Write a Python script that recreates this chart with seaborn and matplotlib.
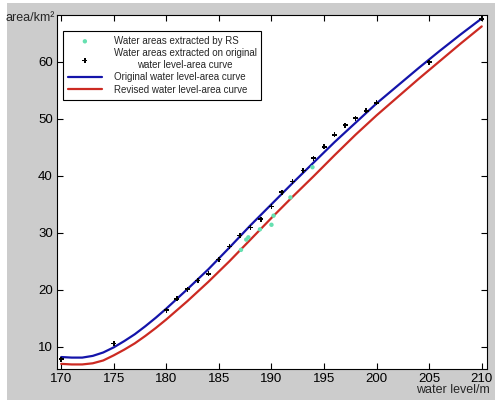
import numpy as np
import pandas as pd
import matplotlib
matplotlib.use("Agg")
import matplotlib.pyplot as plt
import seaborn as sns
from matplotlib.patches import Rectangle

# water level (m) and area (km2)
rs_level = [187.1, 187.6, 187.8, 188.9, 190.0, 190.2, 191.8, 193.9]
rs_area = [27.0, 28.8, 29.2, 30.6, 31.4, 33.0, 36.2, 41.5]

orig_level = [170, 175, 180, 181, 182, 183, 184, 185, 186, 187, 188, 189, 190,
              191, 192, 193, 194, 195, 196, 197, 198, 199, 200, 205, 210]
orig_area = [7.8, 10.6, 16.4, 18.4, 20.1, 21.6, 22.8, 25.3, 27.6, 29.5, 30.9, 32.4, 34.6,
             37.1, 39.0, 40.9, 43.1, 45.1, 47.2, 48.9, 50.1, 51.4, 52.8, 59.9, 67.5]

curve_level = [170, 171, 172, 173, 174, 175, 176, 177, 178, 179, 180, 182, 184, 186, 188, 190,
               192, 194, 196, 198, 200, 202, 204, 206, 208, 210]
curve_orig = [8.2, 8.1, 8.1, 8.4, 9.0, 9.9, 11.0, 12.2, 13.6, 15.1, 16.7, 20.1, 23.6, 27.4, 31.3, 35.0,
              38.7, 42.3, 45.9, 49.3, 52.7, 55.8, 58.9, 61.9, 64.8, 67.6]
curve_rev = [7.0, 6.9, 6.9, 7.1, 7.6, 8.5, 9.5, 10.6, 11.9, 13.3, 14.8, 18.0, 21.4, 25.0, 28.8, 32.6,
             36.3, 39.9, 43.6, 47.2, 50.6, 53.8, 57.0, 60.1, 63.2, 66.2]

sns.set_style("ticks")
plt.rcParams['font.family'] = ['Liberation Sans', 'DejaVu Sans']

fig = plt.figure(figsize=(5.01, 4.0), dpi=100, facecolor="white")
# grey window area with thin white border like the screenshot
bg = Rectangle((7 / 501, 0), 488 / 501, 397 / 400, transform=fig.transFigure,
               facecolor="#cccccc", edgecolor="none", zorder=-10)
fig.add_artist(bg)
ax = fig.add_axes([57 / 501, 31 / 400, 430 / 501, 354 / 400])
ax.set_facecolor("white")

sns.scatterplot(x=rs_level, y=rs_area, ax=ax, color="#66e0b0", s=10, marker="o",
                edgecolor="none", label="Water areas extracted by RS", zorder=4)
sns.scatterplot(x=orig_level, y=orig_area, ax=ax, color="black", s=13, marker="P",
                edgecolor="none", label="Water areas extracted on original\nwater level-area curve", zorder=4)
sns.lineplot(x=curve_level, y=curve_orig, ax=ax, color="#1414aa", lw=1.6,
             label="Original water level-area curve", zorder=3)
sns.lineplot(x=curve_level, y=curve_rev, ax=ax, color="#cc2a22", lw=1.6,
             label="Revised water level-area curve", zorder=3)
for ln in ax.get_lines():
    ln.set_solid_joinstyle("round")

ax.set_xlim(169.6, 210.5)
ax.set_ylim(6.1, 68.2)
ax.set_xticks(np.arange(170, 211, 5))
ax.set_yticks(np.arange(10, 61, 10))
ax.tick_params(direction="in", top=True, right=True, length=4, width=0.8,
               labelsize=9.5, colors="black", pad=3)
for s in ax.spines.values():
    s.set_linewidth(0.8)
    s.set_color("black")
ax.set_xlabel("")
ax.set_ylabel("")

fig.text(5 / 501, 1 - 18 / 400, "area/km²", fontsize=9, va="center", ha="left")
fig.text(490 / 501, 1 - 390 / 400, "water level/m", fontsize=9, va="center", ha="right")

leg = ax.legend(loc="upper left", bbox_to_anchor=(6 / 430, 1 - 16 / 354), borderaxespad=0,
                fontsize=7, frameon=True, fancybox=False, edgecolor="black", framealpha=1,
                handlelength=3.5, borderpad=0.5, labelspacing=0.25, handletextpad=1.2)
leg.get_frame().set_linewidth(0.8)
for t in leg.get_texts():
    t.set_multialignment("center")

fig.savefig("out.png", dpi=100, facecolor=fig.get_facecolor())
